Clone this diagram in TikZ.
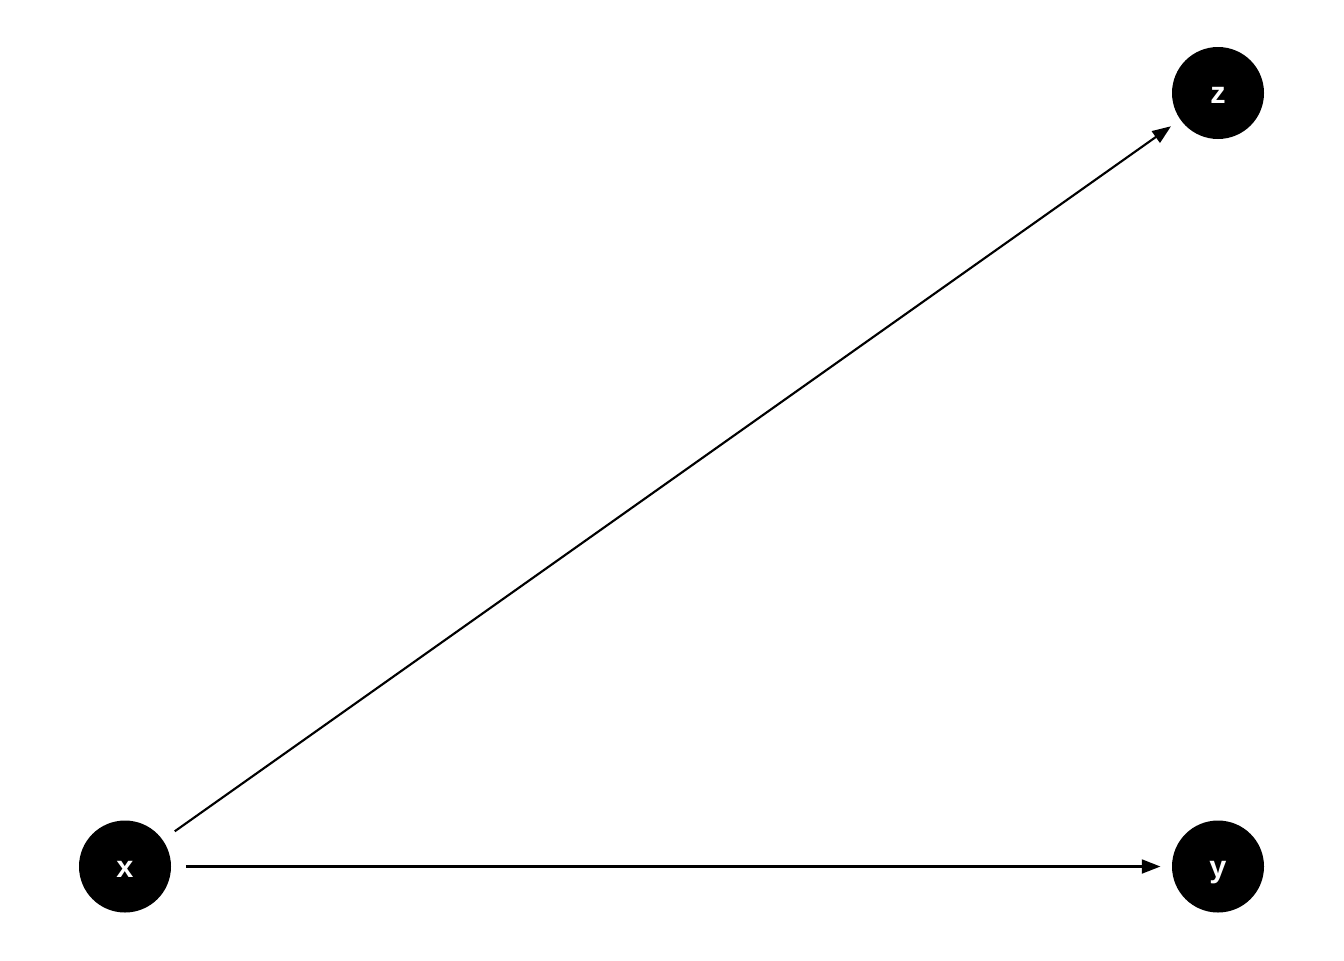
\documentclass[tikz,border=0pt]{standalone}
\usepackage{fontspec}
\setmainfont{Liberation Sans}
\usetikzlibrary{arrows.meta}
\begin{document}
\begin{tikzpicture}[x=0.75pt,y=-0.75pt,
  vnode/.style={circle,fill=black,minimum size=69pt,inner sep=0pt,text=white,text height=16pt,text depth=0pt,font=\bfseries\fontsize{23}{27}\selectfont},
  edge/.style={line width=1.6pt,-{Triangle[length=14pt,width=10.5pt]},shorten <=11pt,shorten >=8.5pt}]
\useasboundingbox (0,0) rectangle (1344,960);
\fill[white] (0,0) rectangle (1344,960);
\node[vnode] (x) at (125,866.5) {x};
\node[vnode] (y) at (1218,866.5) {y};
\node[vnode] (z) at (1218,93) {z};
\draw[edge] (x) -- (y);
\draw[edge] (x) -- (z);
\end{tikzpicture}
\end{document}
